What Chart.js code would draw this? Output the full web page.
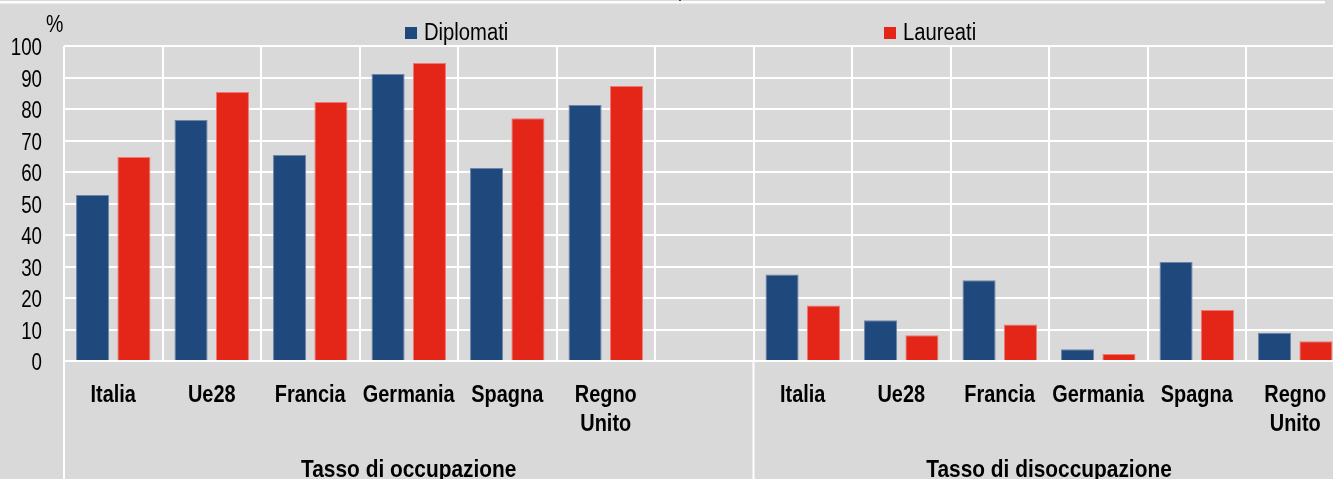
<!DOCTYPE html>
<html>
<head>
<meta charset="utf-8">
<script src="https://cdn.jsdelivr.net/npm/chart.js@4.4.1/dist/chart.umd.min.js"></script>
<style>
  html, body { margin: 0; padding: 0; background: #d9d9d9; overflow: hidden; }
  #wrap { position: absolute; left: 0; top: 0; width: 1360px; height: 479px; }
</style>
</head>
<body>
<div id="wrap"><canvas id="c" width="1360" height="479"></canvas></div>
<script>
// ---- data ----
const categories = [
  'Italia', 'Ue28', 'Francia', 'Germania', 'Spagna', ['Regno', 'Unito'], '',
  'Italia', 'Ue28', 'Francia', 'Germania', 'Spagna', ['Regno', 'Unito']
];
const groupLabels = ['Tasso di occupazione', 'Tasso di disoccupazione'];
const groupRanges = [[0, 6], [7, 12]];
const seriesNames = ['Diplomati', 'Laureati'];
const diplomati = [52.7, 76.5, 65.4, 91.1, 61.3, 81.3, null, 27.5, 12.9, 25.6, 3.7, 31.4, 9.0];
const laureati  = [64.8, 85.4, 82.2, 94.6, 77.1, 87.3, null, 17.6, 8.2, 11.6, 2.2, 16.2, 6.3];
const yTicks = [0, 10, 20, 30, 40, 50, 60, 70, 80, 90, 100];
const unitLabel = '%';

const BLUE = '#1f497d', RED = '#e42618', BG = '#d9d9d9';
const FONT = "'Liberation Sans', Arial, sans-serif";

// draw horizontally condensed text (emulates a narrow typeface)
function nText(ctx, text, x, y, sx, align) {
  ctx.save();
  ctx.translate(x, y);
  ctx.scale(sx, 1);
  ctx.textAlign = align;
  ctx.textBaseline = 'alphabetic';
  ctx.fillText(text, 0, 0);
  ctx.restore();
}

const bgPlugin = {
  id: 'bg',
  beforeDraw(chart) {
    const ctx = chart.ctx;
    ctx.save();
    ctx.fillStyle = BG;
    ctx.fillRect(0, 0, chart.width, chart.height);
    ctx.fillStyle = '#ffffff';
    ctx.fillRect(0, 1, 1325, 2.5);
    ctx.fillStyle = BLUE;
    ctx.fillRect(679, 0, 2, 1);
    ctx.restore();
  }
};

const extrasPlugin = {
  id: 'extras',
  afterDraw(chart) {
    const ctx = chart.ctx;
    const xs = chart.scales.x;
    const ys = chart.scales.y;
    const ca = chart.chartArea;
    const half = (xs.getPixelForValue(1) - xs.getPixelForValue(0)) / 2;
    ctx.save();
    // extended separators
    ctx.strokeStyle = '#ffffff';
    ctx.lineWidth = 2;
    groupRanges.forEach(r => {
      const x = xs.getPixelForValue(r[0]) - half;
      ctx.beginPath();
      ctx.moveTo(x, ca.bottom);
      ctx.lineTo(x, chart.height);
      ctx.stroke();
    });
    ctx.fillStyle = '#000';
    // y tick labels
    ctx.font = '24px ' + FONT;
    ys.ticks.forEach(t => {
      nText(ctx, String(t.value), 42, ys.getPixelForValue(t.value) + 9, 0.78, 'right');
    });
    // x tick labels
    ctx.font = 'bold 24px ' + FONT;
    categories.forEach((lab, i) => {
      const lines = Array.isArray(lab) ? lab : [lab];
      const x = xs.getPixelForValue(i);
      lines.forEach((ln, j) => {
        nText(ctx, ln, x, ca.bottom + 41 + j * 28.5, 0.83, 'center');
      });
    });
    // group labels
    groupRanges.forEach((r, i) => {
      const x0 = xs.getPixelForValue(r[0]) - half;
      const x1 = xs.getPixelForValue(r[1]) + half;
      nText(ctx, groupLabels[i], (x0 + x1) / 2, 477, 0.87, 'center');
    });
    // unit label
    ctx.font = '23px ' + FONT;
    nText(ctx, unitLabel, 46, 32, 0.85, 'left');
    // legend
    const items = [{x: 405, c: BLUE, t: seriesNames[0]}, {x: 884, c: RED, t: seriesNames[1]}];
    items.forEach(it => {
      ctx.fillStyle = it.c;
      ctx.fillRect(it.x, 27, 12, 12);
      ctx.fillStyle = '#000';
      nText(ctx, it.t, it.x + 19, 39.5, 0.88, 'left');
    });
    ctx.restore();
  }
};

new Chart(document.getElementById('c'), {
  type: 'bar',
  data: {
    labels: categories,
    datasets: [
      { label: seriesNames[0], data: diplomati, backgroundColor: BLUE, borderColor: '#6d86a8', borderWidth: {top: 1, left: 1, right: 1, bottom: 0}, borderSkipped: false },
      { label: seriesNames[1], data: laureati, backgroundColor: RED, borderColor: '#ef7a70', borderWidth: {top: 1, left: 1, right: 1, bottom: 0}, borderSkipped: false }
    ]
  },
  options: {
    responsive: false,
    animation: false,
    devicePixelRatio: 1,
    layout: { padding: { left: 0, top: 46, right: 15.5, bottom: 0 } },
    plugins: { legend: { display: false }, tooltip: { enabled: false } },
    datasets: { bar: { categoryPercentage: 0.84, barPercentage: 0.8 } },
    scales: {
      x: {
        offset: true,
        grid: { offset: true, color: '#ffffff', lineWidth: 2, drawTicks: false },
        border: { display: false },
        ticks: {
          color: 'rgba(0,0,0,0)',
          font: { family: FONT, size: 20, weight: 'bold', lineHeight: 1.3 },
          padding: 18,
          maxRotation: 0,
          autoSkip: false
        },
        afterFit(s) { s.height = 118; }
      },
      y: {
        min: 0, max: 100,
        afterBuildTicks(s) { s.ticks = yTicks.map(v => ({ value: v })); },
        grid: { color: '#ffffff', lineWidth: 2, drawTicks: false },
        border: { display: false },
        ticks: {
          color: 'rgba(0,0,0,0)',
          font: { family: FONT, size: 20 },
          padding: 22
        },
        afterFit(s) { s.width = 64; }
      }
    }
  },
  plugins: [bgPlugin, extrasPlugin]
});
</script>
</body>
</html>
